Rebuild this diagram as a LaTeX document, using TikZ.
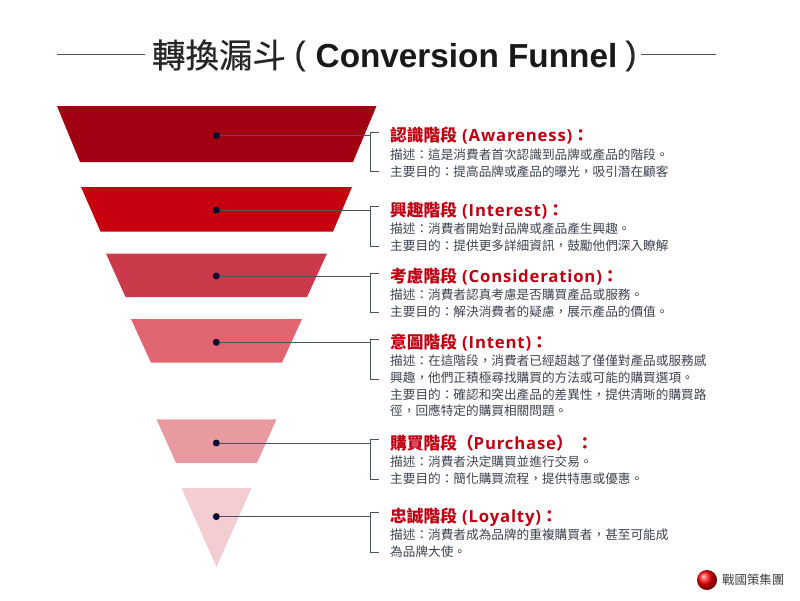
\documentclass[tikz,border=0pt]{standalone}
\usepackage{fontspec}
\setmainfont{Liberation Sans}
\newfontfamily\cjk{Noto Sans CJK TC}
\newfontfamily\cjkt[FakeBold=0.5]{Noto Sans CJK TC}
\newfontfamily\parenf[FakeBold=0.6]{Liberation Sans}
\newfontfamily\hlat[LetterSpace=5]{Open Sans}
\usetikzlibrary{calc}
\definecolor{headred}{HTML}{C00012}
\definecolor{bodyink}{HTML}{3D4350}
\definecolor{lineink}{HTML}{4A5264}
\definecolor{dotink}{HTML}{0A0A30}
\definecolor{bandA}{HTML}{A00012}
\definecolor{bandB}{HTML}{C6000F}
\definecolor{bandC}{HTML}{CB3A4A}
\definecolor{bandD}{HTML}{DF6670}
\definecolor{bandE}{HTML}{E99AA1}
\definecolor{bandF}{HTML}{F3CDD2}
\newcommand{\cc}{\char"FF1A\relax}
\newcommand{\cm}{\char"FF0C\relax}
\newcommand{\pl}{\char"FF08\relax}
\newcommand{\pr}{\char"FF09\relax}
\newcommand{\hd}[2]{{\cjk\bfseries #1}{\hlat\bfseries #2}{\cjk\bfseries \cc}}
\tikzset{
  x=1pt,y=-1pt,
  dotnode/.style={circle,fill=dotink,inner sep=0pt,minimum size=7pt},
  conn/.style={draw=lineink,line width=0.9pt},
  head/.style={anchor=west,inner sep=0pt,font=\fontsize{16.7}{20}\selectfont,text=headred},
  bodyt/.style={anchor=north west,inner sep=0pt,align=left,font=\cjk\fontsize{12.65}{16.6}\selectfont,text=bodyink},
  rulel/.style={draw=lineink,line width=0.8pt},
  titlep/.style={anchor=center,inner sep=0pt,text=black!85,font=\parenf\fontsize{33}{36}\selectfont},
}
\begin{document}
\begin{tikzpicture}
\useasboundingbox[fill=white] (0,0) rectangle (800,600);
% title
\node[anchor=center,inner sep=0pt,text=black!85,font=\cjkt\fontsize{33.5}{36}\selectfont] (titlecjk) at (219,55) {轉換漏斗};
\node[titlep] (lp) at (300,56) {(};
\node[anchor=center,inner sep=0pt,font=\bfseries\fontsize{33.3}{36}\selectfont,text=black!90] (titlelat) at (466.5,55.5) {Conversion Funnel};
\node[titlep] (rp) at (631,56) {)};
\coordinate (ruleL) at (57,54.5);
\coordinate (ruleLe) at (145,54.5);
\coordinate (ruleR) at (641,54.5);
\coordinate (ruleRe) at (716,54.5);
\draw[rulel] (ruleL)--(ruleLe);
\draw[rulel] (ruleR)--(ruleRe);
% funnel
\fill[bandA] (57,106)--(376.5,106)--(353,162)--(80,162)--cycle;
\fill[bandB] (81,187)--(352,187)--(333,231.5)--(100.5,231.5)--cycle;
\fill[bandC] (106,253.5)--(327,253.5)--(307,297)--(125.5,297)--cycle;
\fill[bandD] (131,319)--(302,319)--(282,362.7)--(151,362.7)--cycle;
\fill[bandE] (156.5,419.3)--(276.5,419.3)--(257,463)--(176,463)--cycle;
\fill[bandF] (181.5,488)--(251.5,488)--(216.5,567)--cycle;
% connectors
\foreach \n/\yy/\tp/\bt in {a/135.7/132/171, b/210.3/206.7/246, c/276/273/312, d/342.3/339.5/379, e/443/439.7/479, f/516.6/512.7/552.3}{
  \node[dotnode] (dot\n) at (216.3,\yy) {};
  \coordinate (join\n) at (370,\yy);
  \coordinate (top\n) at (379,\tp);
  \coordinate (bot\n) at (379,\bt);
  \draw[conn] (dot\n) -- (join\n);
  \draw[conn] (top\n) -- (370,\tp) -- (370,\bt) -- (bot\n);
}
% text
\node[head] (ha) at (390,136) {\hd{認識階段}{ (Awareness)}};
\node[bodyt] (ta) at (390,149) {描述\cc 這是消費者首次認識到品牌或產品的階段。\\主要目的\cc 提高品牌或產品的曝光\cm 吸引潛在顧客};
\node[head] (hb) at (390,211) {\hd{興趣階段}{ (Interest)}};
\node[bodyt] (tb) at (390,223) {描述\cc 消費者開始對品牌或產品產生興趣。\\主要目的\cc 提供更多詳細資訊\cm 鼓勵他們深入瞭解};
\node[head] (hc) at (390,277) {\hd{考慮階段}{ (Consideration)}};
\node[bodyt] (tc) at (390,288.5) {描述\cc 消費者認真考慮是否購買產品或服務。\\主要目的\cc 解決消費者的疑慮\cm 展示產品的價值。};
\node[head] (hd) at (390,343) {\hd{意圖階段}{ (Intent)}};
\node[bodyt] (td) at (390,355) {描述\cc 在這階段\cm 消費者已經超越了僅僅對產品或服務感\\興趣\cm 他們正積極尋找購買的方法或可能的購買選項。\\主要目的\cc 確認和突出產品的差異性\cm 提供清晰的購買路\\徑\cm 回應特定的購買相關問題。};
\node[head] (he) at (390,443) {{\cjk\bfseries 購買階段\pl}{\hlat\bfseries Purchase}{\cjk\bfseries \pr\ \cc}};
\node[bodyt] (te) at (390,455.5) {描述\cc 消費者決定購買並進行交易。\\主要目的\cc 簡化購買流程\cm 提供特惠或優惠。};
\node[head] (hf) at (390,517) {\hd{忠誠階段}{ (Loyalty)}};
\node[bodyt] (tf) at (390,529) {描述\cc 消費者成為品牌的重複購買者\cm 甚至可能成\\為品牌大使。};
% logo
\shade[ball color=red] (707,580) circle (10);
\node[anchor=west,inner sep=0pt,text=black!75,font=\cjk\fontsize{12.4}{14}\selectfont] (logo) at (722,580) {戰國策集團};
\end{tikzpicture}
\end{document}
